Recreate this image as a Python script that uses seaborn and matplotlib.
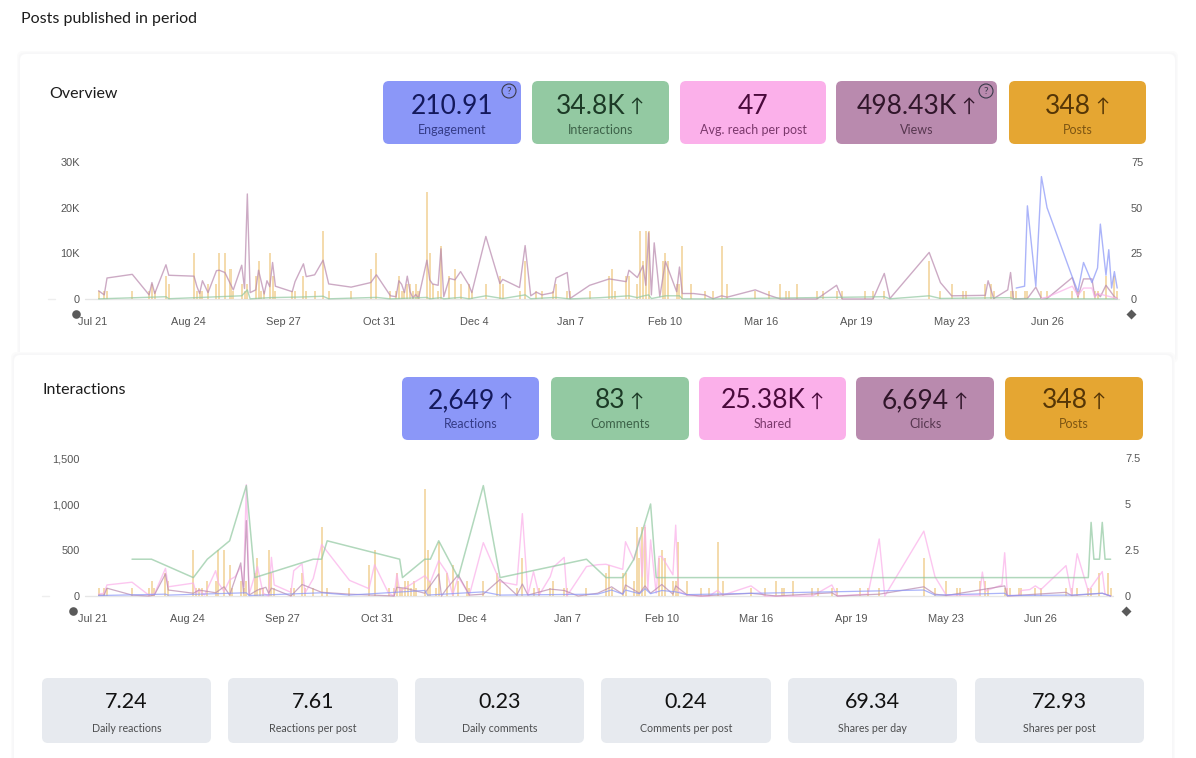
import matplotlib
matplotlib.use("Agg")
import matplotlib.pyplot as plt
import seaborn as sns
from matplotlib.patches import FancyBboxPatch, Circle

sns.set_theme(style="white")
UI = ["Lato", "DejaVu Sans"]
AXF = ["Liberation Sans", "DejaVu Sans"]

# ---------- data: x values are days after Jul 21 ----------
tick_days = [0, 34, 68, 102, 136, 170, 204, 238, 272, 306, 340]
tick_labels = ["Jul 21", "Aug 24", "Sep 27", "Oct 31", "Dec 4", "Jan 7", "Feb 10", "Mar 16", "Apr 19", "May 23", "Jun 26"]

post_days = [2,4,5,14,20,21,22,26,27,36,37,38,39,41,44,45,47,49,50,53,54,55,58,59,60,61,63,64,65,71,72,75,76,79,82,84,92,99,101,
             106,108,109,110,111,112,113,114,115,116,119,120,121,123,124,127,129,131,134,135,140,145,146,152,154,158,160,164,165,
             169,170,177,184,185,186,190,191,194,195,196,197,198,203,204,205,208,209,210,213,218,221,224,226,236,241,245,247,248,
             251,258,260,265,267,275,278,282,298,302,306,310,311,318,320,321,327,328,329,332,333,338,340,349,351,353,357,358,361,364,365]
post_vals = [1,1,1,1,1,2,1,3,2,6,1,1,1,2,2,6,6,4,1,2,1,2,3,5,1,1,6,3,1,1,1,3,1,1,9,1,1,4,6,
             1,1,3,1,1,2,2,1,2,1,14,6,2,1,7,3,4,2,2,1,2,3,2,1,5,1,1,1,2,
             1,1,1,3,4,1,3,3,2,9,5,9,9,5,6,5,2,2,7,2,1,1,7,2,1,1,2,1,1,
             2,1,1,1,1,1,1,1,5,1,2,1,1,2,2,1,1,1,1,1,1,1,1,1,1,1,1,1,3,3,1]

views_days = [2,4,5,14,20,21,22,26,27,36,37,38,39,41,44,45,47,50,53,54,55,56,58,59,61,62,63,64,65,71,72,75,76,79,82,84,92,99,101,
              106,108,109,110,111,112,113,114,115,116,119,120,121,123,124,125,127,129,131,134,135,140,145,146,152,154,156,158,160,
              164,165,169,170,177,184,185,190,191,194,196,197,198,199,200,201,202,204,208,209,210,214,218,221,224,226,236,241,245,
              258,265,267,278,282,284,298,302,306,318,319,321,326,327,328,332,333,336,338,340,349,351,353,356,357,358,359,361,364,365]
views_vals = [1800,900,4600,5400,900,3600,1200,7500,5200,5000,2800,1200,4000,1400,6200,6300,5800,2000,7400,2300,23000,1400,2000,6300,1100,4000,2700,8000,2800,1600,3800,7700,4900,5300,8500,3300,2600,3600,5300,
              700,500,4000,3200,1400,5000,1600,200,1000,200,8500,4200,3300,3000,11000,500,4500,4200,6000,3000,1400,13700,3400,4300,2500,11700,700,1500,900,
              1400,4600,5800,100,3000,4400,4300,3800,6300,4700,7300,3000,14500,900,12300,6500,500,8200,1600,7000,1200,1200,900,50,700,400,2000,800,0,
              0,3000,0,0,5600,100,10200,3600,700,800,4000,100,2000,5800,0,100,100,2600,100,100,4700,500,4400,4400,500,1200,500,3000,500,100]

inter_days = [2,26,27,53,55,56,63,75,82,84,101,106,119,120,124,125,131,134,140,146,154,156,165,170,181,191,194,196,198,199,204,209,210,221,282,284,298,302,327,328,365]
inter_vals = [30,500,60,700,2000,40,300,450,600,40,350,30,350,40,300,40,350,40,700,100,900,60,350,20,300,700,300,650,900,100,700,700,30,20,500,40,700,120,300,40,30]

eng_days = [329,332,333,336,338,340,349,351,353,356,358,359,361,362,363,364,365]
eng_vals = [6,7,51,7,67,50,12,4,20,9,17,41,13,27,6,15,6]

reach_days = [338,340,349,351,353,356,357,358,365]
reach_vals = [0.3,1,7,2,6,6,1,3,0.3]

shared_days = [2,4,5,14,20,21,22,26,27,36,37,38,40,44,45,47,49,51,53,54,55,56,59,61,63,64,65,71,72,75,76,79,82,92,99,101,106,108,109,110,119,121,124,127,129,131,135,140,146,152,154,156,158,160,164,165,169,170,177,181,
               184,190,191,194,196,197,198,199,200,202,203,204,208,209,210,213,218,221,224,226,236,241,245,258,265,267,278,282,284,298,302,306,318,319,320,321,326,327,328,332,333,336,338,340,349,351,353,357,358,362,363,365]
shared_vals = [20,30,120,150,10,20,20,300,100,140,30,65,10,275,140,50,175,210,320,100,1210,20,320,30,0,420,120,40,275,350,30,190,560,170,80,340,30,0,240,50,220,150,385,250,10,210,10,580,155,120,895,10,265,10,210,310,420,0,320,340,
               345,290,590,390,630,210,770,70,610,30,430,430,230,770,50,10,0,0,60,10,110,0,0,0,120,0,20,620,0,705,210,10,10,260,50,65,120,470,5,5,60,70,110,70,330,10,460,50,95,265,20,0]

clicks_days = [2,4,5,14,20,22,26,27,36,38,44,47,49,53,54,55,56,59,62,63,64,71,75,82,92,108,109,112,119,124,125,127,131,135,140,146,152,154,156,164,169,174,181,186,190,191,196,198,200,204,208,209,213,218,236,245,265,267,282,298,302,306,327,328,349,351,362,365]
clicks_vals = [10,10,85,10,0,10,240,65,30,65,35,100,10,360,30,820,10,65,95,30,85,0,125,40,20,0,95,85,30,240,0,85,230,10,20,180,10,130,10,75,60,0,30,100,20,120,30,110,30,125,20,110,15,0,30,0,35,0,20,100,20,5,110,0,40,5,30,0]

react_days = [2,26,27,55,56,82,92,119,120,140,146,181,186,190,191,196,198,200,204,209,213,298,302,327,328,351,362,365]
react_vals = [5,20,10,35,5,35,10,60,10,45,10,20,65,20,65,25,80,25,60,45,15,65,10,30,5,10,30,0]

comm_days = [14,21,36,41,45,49,55,58,79,82,84,110,111,119,121,124,131,140,146,177,184,190,194,200,202,357,358,359,361,362,363,365]
comm_vals = [2,2,1,2,2.5,3,6,1,2,2,3,2,1,2,2,3,1,6,1,2,1,1,2,5,1,1,4,2,2,4,2,2]

top_cards = [("210.91", "Engagement", False), ("34.8K", "Interactions", True), ("47", "Avg. reach per post", False),
             ("498.43K", "Views", True), ("348", "Posts", True)]
bottom_cards = [("2,649", "Reactions", True), ("83", "Comments", True), ("25.38K", "Shared", True),
                ("6,694", "Clicks", True), ("348", "Posts", True)]
stat_cards = [("7.24", "Daily reactions"), ("7.61", "Reactions per post"), ("0.23", "Daily comments"),
              ("0.24", "Comments per post"), ("69.34", "Shares per day"), ("72.93", "Shares per post")]

# ---------- styles ----------
BLUE, GREEN, PINK, PURPLE, ORANGE = "#8b97f8", "#93c9a2", "#fbb0ea", "#b98aae", "#e5a632"
CARD_COLORS = [BLUE, GREEN, PINK, PURPLE, ORANGE]
INK = ["#14195c", "#1c3a26", "#4a0a3c", "#30162a", "#553607"]
W, H = 1196, 758
fig = plt.figure(figsize=(W / 100, H / 100), dpi=100, facecolor="white")
bg = fig.add_axes([0, 0, 1, 1], zorder=0)
bg.set_xlim(0, W); bg.set_ylim(H, 0); bg.axis("off")
renderer = fig.canvas.get_renderer()


def panel(x0, y0, x1, y1, z):
    for grow, col in ((3, "#fbfbfb"), (1.5, "#f7f7f8")):
        bg.add_patch(FancyBboxPatch((x0 - grow, y0 - grow), x1 - x0 + 2 * grow, y1 - y0 + 2 * grow,
                                    boxstyle="round,pad=0,rounding_size=6", fc=col, ec="none", zorder=z))
    bg.add_patch(FancyBboxPatch((x0, y0), x1 - x0, y1 - y0, boxstyle="round,pad=0,rounding_size=6",
                                fc="white", ec="none", zorder=z + 0.1))


def card(x0, x1, y0, y1, fc, value, label, ink, vy, ly, arrow=False, vsize=19, lsize=9):
    bg.add_patch(FancyBboxPatch((x0, y0), x1 - x0, y1 - y0, boxstyle="round,pad=0,rounding_size=6",
                                fc=fc, ec="none", zorder=5))
    cx = (x0 + x1) / 2
    t = bg.text(cx, vy, value, ha="center", va="center", fontsize=vsize, color=ink, family=UI, zorder=6)
    if arrow:
        tw = t.get_window_extent(renderer).width
        arrow_w = 16
        t.set_x(cx - (arrow_w + 3) / 2)
        bg.text(cx - (arrow_w + 3) / 2 + tw / 2 + 3 + arrow_w / 2, vy + 0.5, "↑", ha="center", va="center",
                fontsize=vsize * 0.72, color=ink, family=UI, zorder=6)
    bg.text(cx, ly, label, ha="center", va="center", fontsize=lsize, color=ink, alpha=0.72, family=UI, zorder=6)


def help_icon(cx, cy):
    bg.add_patch(Circle((cx, cy), 7, fc="none", ec="#3a3a4a", lw=0.8, zorder=7))
    bg.text(cx, cy, "?", ha="center", va="center", fontsize=7.4, color="#3a3a4a", family=UI, zorder=7)


def chart(x0, x1, ytop, ybase, px_day, left_max, left_ticks, left_labels, right_max, right_ticks, right_labels,
          left_series, right_series, hx0, hx1, stub):
    rect = [x0 / W, 1 - ybase / H, (x1 - x0) / W, (ybase - ytop) / H]
    xlim = ((x0 - 93) / px_day, (x1 - 93) / px_day)
    abar = fig.add_axes(rect, zorder=1); abar.patch.set_alpha(0)
    sns.barplot(x=post_days, y=post_vals, native_scale=True, width=0.72, color=ORANGE, alpha=0.4,
                saturation=1, ax=abar, errorbar=None, linewidth=0)
    abar.set_xlim(*xlim); abar.set_ylim(0, 18); abar.axis("off")

    axl = fig.add_axes(rect, zorder=2); axl.patch.set_alpha(0)
    for d, v, c, lw in left_series:
        sns.lineplot(x=d, y=v, color=c, lw=lw, alpha=0.72, estimator=None, sort=False, ax=axl, clip_on=False)
    axl.set_xlim(*xlim); axl.set_ylim(0, left_max)
    axl.set_xticks(tick_days); axl.set_xticklabels(tick_labels, family=AXF, fontsize=7.9, color="#555555")
    axl.set_yticks(left_ticks); axl.set_yticklabels(left_labels, family=AXF, fontsize=7.9, color="#555555")
    axl.tick_params(axis="x", length=0, pad=12.6)
    axl.tick_params(axis="y", length=0, pad=3.6)
    axl.grid(False)
    sns.despine(ax=axl, left=True, bottom=True)

    axr = axl.twinx(); axr.patch.set_alpha(0)
    for d, v, c, lw in right_series:
        sns.lineplot(x=d, y=v, color=c, lw=lw, alpha=0.72, estimator=None, sort=False, ax=axr, clip_on=False)
    axr.set_xlim(*xlim); axr.set_ylim(0, right_max)
    axr.set_yticks(right_ticks); axr.set_yticklabels(right_labels, family=AXF, fontsize=7.9, color="#555555")
    axr.tick_params(axis="y", length=0, pad=4.3)
    axr.grid(False)
    sns.despine(ax=axr, left=True, right=True, bottom=True)

    bg.plot([x0, x1 - 6], [ybase, ybase], color="#e6e6e6", lw=1, zorder=4)
    bg.plot([stub, stub + 7], [ybase, ybase], color="#eeeeee", lw=1, zorder=4)
    bg.plot([hx0], [ybase + 14.5], marker="o", ms=6.2, color="#5a5a5a", mec="none", zorder=7)
    bg.plot([hx1], [ybase + 14.5], marker="D", ms=4.6, color="#5a5a5a", mec="none", zorder=7)


# ---------- page ----------
bg.text(21, 18.5, "Posts published in period", fontsize=11.5, color="#1c1c1c", family=UI, va="center", ha="left")
panel(20, 54, 1175, 360, 1)
panel(14, 355, 1172, 775, 2)
bg.text(49, 94, "Overview", fontsize=11.5, color="#1c1c1c", family=UI, va="center", ha="left", zorder=6)
bg.text(42, 390, "Interactions", fontsize=11.5, color="#1c1c1c", family=UI, va="center", ha="left", zorder=6)

top_x = [(383, 521), (532, 669), (680, 826), (836, 997), (1009, 1146)]
for (a, b), c, k, (v, l, up) in zip(top_x, CARD_COLORS, INK, top_cards):
    card(a, b, 81, 144, c, v, l, k, 106, 129.5, arrow=up)
help_icon(509, 91)
help_icon(986, 91)

bot_x = [(402, 539), (551, 689), (699, 846), (856, 994), (1005, 1143)]
for (a, b), c, k, (v, l, up) in zip(bot_x, CARD_COLORS, INK, bottom_cards):
    card(a, b, 377, 440, c, v, l, k, 401, 424.5, arrow=up)

stat_x = [(42, 211), (228, 398), (415, 584), (601, 771), (788, 957), (975, 1144)]
for (a, b), (v, l) in zip(stat_x, stat_cards):
    card(a, b, 678, 743, "#e7eaef", v, l, "#111111", 702, 729, vsize=15.5, lsize=7.7)

chart(85, 1125, 162, 299, 2.806, 30000, [0, 10000, 20000, 30000], ["0", "10K", "20K", "30K"],
      75, [0, 25, 50, 75], ["0", "25", "50", "75"],
      [(views_days, views_vals, PURPLE, 1.0), (inter_days, inter_vals, GREEN, 1.0)],
      [(eng_days, eng_vals, BLUE, 1.0), (reach_days, reach_vals, PINK, 1.0)], 76, 1131, 48)

chart(85, 1119, 458, 596, 2.788, 1500, [0, 500, 1000, 1500], ["0", "500", "1,000", "1,500"],
      7.5, [0, 2.5, 5, 7.5], ["0", "2.5", "5", "7.5"],
      [(shared_days, shared_vals, PINK, 1.0), (clicks_days, clicks_vals, PURPLE, 0.9), (react_days, react_vals, BLUE, 0.9)],
      [(comm_days, comm_vals, GREEN, 1.1)], 73, 1126, 42)

fig.savefig("out.png", dpi=100)
